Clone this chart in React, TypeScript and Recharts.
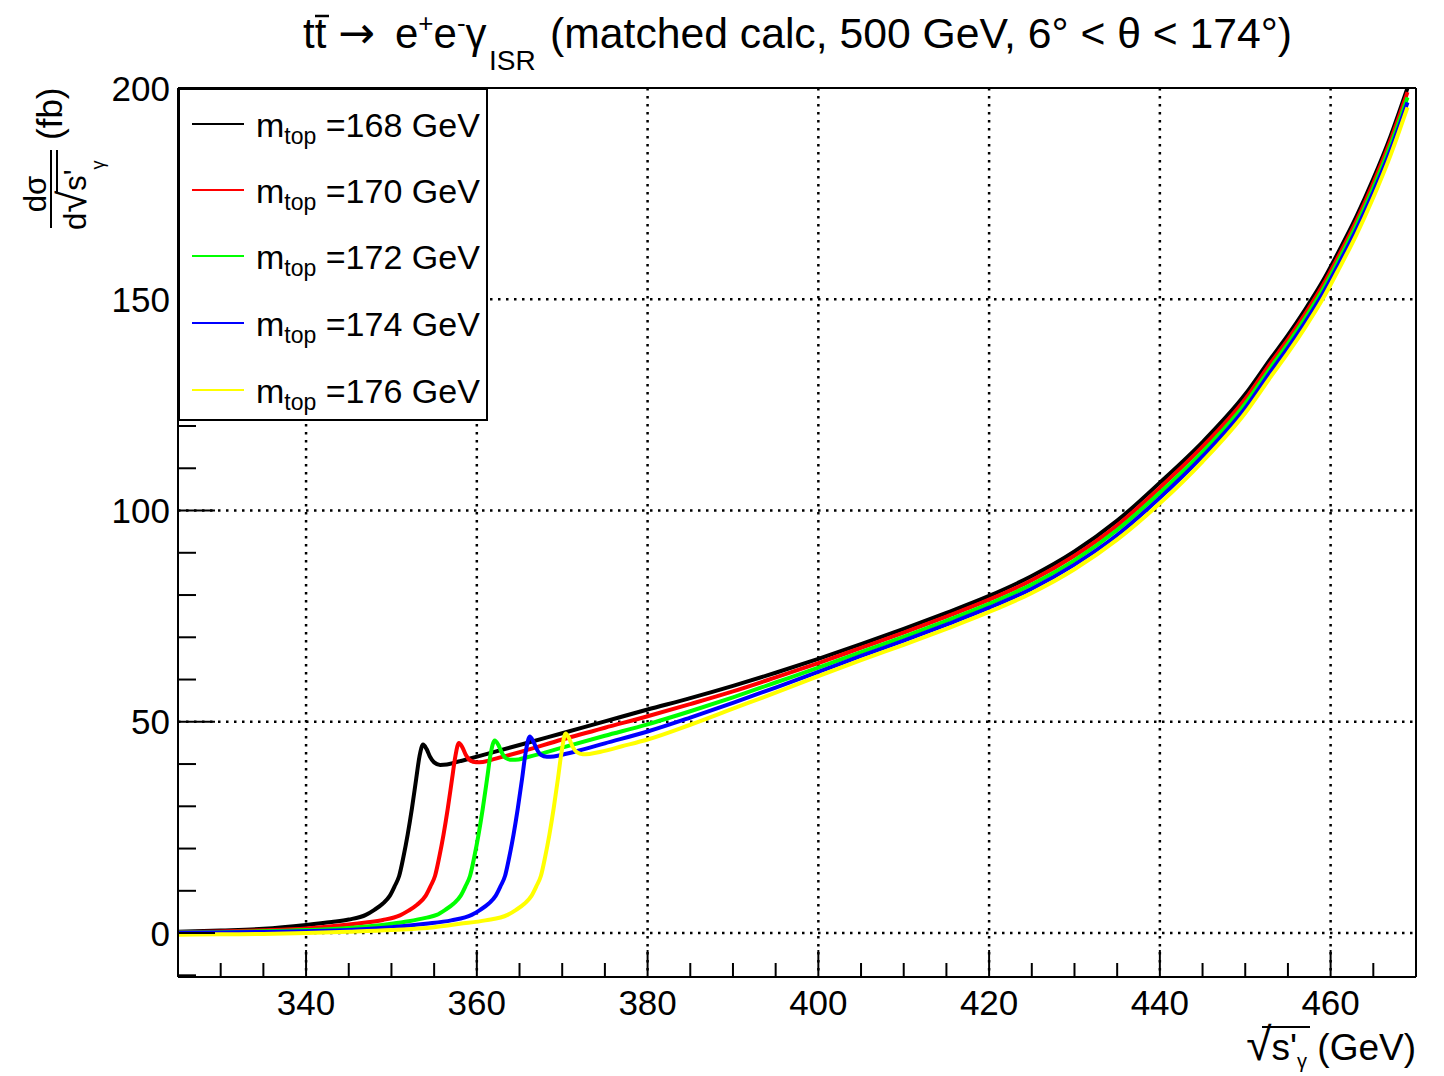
import React from 'react';
import { LineChart, Line, XAxis, YAxis, CartesianGrid, Legend, ReferenceLine } from 'recharts';

const FONT = '"Liberation Sans", Arimo, Arial, Helvetica, sans-serif';

// top-quark masses (GeV) and ROOT colours of the five curves
const topMasses = [168, 170, 172, 174, 176];
const seriesColors = ['#000000', '#ff0000', '#00ff00', '#0000ff', '#ffff00'];

// sqrt(s'_gamma) (GeV) and d sigma / d sqrt(s') (fb)
const sqrtS168 = [325, 330, 335, 340, 343, 345, 347, 348, 349, 349.8, 350.4, 350.9, 351.4, 351.9, 352.4, 352.9, 353.3, 353.7, 354.1, 354.5, 355.0, 355.7, 356.5, 357.5, 359, 361, 365, 370, 375, 380, 385, 390, 395, 400, 405, 410, 415, 420, 425, 430, 435, 440, 445, 450, 453, 455, 457, 459, 461, 463, 465, 467, 469];
const xsec168 = [0.3, 0.6, 1.0, 1.9, 2.6, 3.2, 4.3, 5.5, 7.0, 8.8, 11.2, 13.5, 18.0, 23.3, 29.5, 36.5, 42.0, 44.6, 43.6, 41.8, 40.4, 39.8, 39.9, 40.4, 41.2, 42.3, 44.5, 47.3, 50.1, 52.9, 55.6, 58.5, 61.6, 64.9, 68.4, 72.0, 75.8, 79.8, 84.5, 90.3, 97.6, 106.6, 116.2, 127.5, 136.0, 141.5, 147.5, 154.0, 161.5, 169.5, 178.5, 188.5, 200.0];

const sqrtS170 = [325, 330, 335, 340, 345, 347, 349, 351, 352, 353, 354, 354.6, 355.1, 355.6, 356.1, 356.6, 357.1, 357.5, 357.9, 358.3, 358.7, 359.2, 359.9, 360.7, 361.7, 363.2, 365, 370, 375, 380, 385, 390, 395, 400, 405, 410, 415, 420, 425, 430, 435, 440, 445, 450, 453, 455, 457, 459, 461, 463, 465, 467, 469];
const xsec170 = [0.2, 0.35, 0.65, 1.1, 2.0, 2.5, 3.1, 4.2, 5.3, 6.7, 8.8, 11.2, 13.5, 18.0, 23.3, 29.5, 36.5, 42.0, 45.0, 44.0, 42.2, 40.9, 40.4, 40.5, 41.0, 41.8, 42.8, 45.8, 48.6, 51.3, 54.2, 57.2, 60.5, 63.9, 67.5, 71.1, 74.9, 78.9, 83.5, 89.3, 96.5, 105.4, 115.1, 126.4, 135.0, 140.5, 146.5, 153.0, 160.5, 168.5, 177.5, 187.5, 199.0];

const sqrtS172 = [325, 330, 335, 340, 345, 350, 352, 354, 355.3, 356.3, 357.3, 358.1, 358.7, 359.2, 359.7, 360.2, 360.7, 361.2, 361.6, 362.1, 362.5, 362.9, 363.4, 364.1, 364.9, 365.9, 367.4, 370, 375, 380, 385, 390, 395, 400, 405, 410, 415, 420, 425, 430, 435, 440, 445, 450, 453, 455, 457, 459, 461, 463, 465, 467, 469];
const xsec172 = [0.12, 0.22, 0.4, 0.7, 1.2, 2.2, 2.8, 3.6, 4.3, 5.5, 7.0, 8.8, 11.2, 13.5, 18.0, 23.3, 29.5, 36.5, 42.2, 45.6, 44.6, 42.8, 41.4, 41.0, 41.1, 41.6, 42.4, 43.9, 46.7, 49.4, 52.5, 55.8, 59.3, 62.8, 66.5, 70.1, 73.9, 77.9, 82.5, 88.2, 95.4, 104.2, 113.9, 125.3, 133.9, 139.5, 145.5, 152.0, 159.5, 167.5, 176.4, 186.4, 197.8];

const sqrtS174 = [325, 330, 335, 340, 345, 350, 354, 357, 359.4, 360.4, 361.4, 362.2, 362.8, 363.3, 363.8, 364.3, 364.8, 365.3, 365.7, 366.2, 366.6, 367.0, 367.5, 368.2, 369.0, 370.0, 372, 375, 380, 385, 390, 395, 400, 405, 410, 415, 420, 425, 430, 435, 440, 445, 450, 453, 455, 457, 459, 461, 463, 465, 467, 469];
const xsec174 = [0.05, 0.13, 0.25, 0.45, 0.75, 1.4, 2.2, 3.0, 4.3, 5.5, 7.0, 8.8, 11.2, 13.5, 18.0, 23.3, 29.5, 36.5, 42.5, 46.5, 45.4, 43.6, 42.2, 41.7, 41.8, 42.2, 43.2, 44.9, 47.7, 51.0, 54.5, 58.1, 61.8, 65.6, 69.2, 73.0, 77.0, 81.5, 87.2, 94.2, 103.0, 112.8, 124.2, 132.9, 138.5, 144.5, 151.0, 158.5, 166.4, 175.3, 185.2, 196.6];

const sqrtS176 = [325, 330, 335, 340, 345, 350, 355, 358, 361, 363.6, 364.6, 365.6, 366.4, 367.0, 367.5, 368.0, 368.5, 369.0, 369.5, 369.9, 370.4, 370.8, 371.2, 371.7, 372.4, 373.2, 374.5, 377, 380, 385, 390, 395, 400, 405, 410, 415, 420, 425, 430, 435, 440, 445, 450, 453, 455, 457, 459, 461, 463, 465, 467, 469];
const xsec176 = [-0.4, -0.3, -0.2, 0.0, 0.3, 0.7, 1.4, 2.2, 3.0, 4.3, 5.5, 7.0, 8.8, 11.2, 13.5, 18.0, 23.3, 29.5, 36.5, 42.5, 47.2, 46.1, 44.2, 42.8, 42.3, 42.4, 42.9, 44.2, 45.8, 49.3, 53.1, 56.9, 60.8, 64.6, 68.2, 72.0, 76.0, 80.5, 86.1, 93.1, 101.7, 111.6, 123.1, 131.7, 137.3, 143.3, 149.8, 157.3, 165.2, 174.1, 184.0, 195.4];

// axis ticks
const xTicks = [330, 335, 340, 345, 350, 355, 360, 365, 370, 375, 380, 385, 390, 395, 400, 405, 410, 415, 420, 425, 430, 435, 440, 445, 450, 455, 460, 465];
const xMajorTicks = [340, 360, 380, 400, 420, 440, 460];
const yTicks = [-10, 0, 10, 20, 30, 40, 50, 60, 70, 80, 90, 100, 110, 120, 130, 140, 150, 160, 170, 180, 190, 200];
const yMajorTicks = [0, 50, 100, 150, 200];
const xDomain = [325, 470];
const yDomain = [-10.4, 200];

const allX = [sqrtS168, sqrtS170, sqrtS172, sqrtS174, sqrtS176];
const allY = [xsec168, xsec170, xsec172, xsec174, xsec176];
const seriesData = allX.map((xs, k) => xs.map((x, i) => ({ x, y: allY[k][i] })));

const XTick = (props: any) => {
  const { x, y, payload } = props;
  const v = payload.value;
  const major = xMajorTicks.includes(v);
  return (
    <g>
      <line x1={x} x2={x} y1={y} y2={y - (major ? 27 : 14)} stroke="#000" strokeWidth={2} />
      {major && (
        <text x={x} y={y + 38} textAnchor="middle" fontSize={35} fontFamily={FONT} fill="#000">{v}</text>
      )}
    </g>
  );
};

const YTick = (props: any) => {
  const { x, y, payload } = props;
  const v = payload.value;
  const major = yMajorTicks.includes(v);
  return (
    <g>
      <line x1={x} x2={x + (major ? 37 : 18)} y1={y} y2={y} stroke="#000" strokeWidth={2} />
      {major && (
        <text x={x - 8} y={y + 12.5} textAnchor="end" fontSize={35} fontFamily={FONT} fill="#000">{v}</text>
      )}
    </g>
  );
};

const legendRows = [36, 102, 168, 235, 302];

const LegendBox = () => (
  <svg width={310} height={333} style={{ display: 'block' }}>
    <rect x={1} y={1} width={308} height={331} fill="#fff" stroke="#000" strokeWidth={2} />
    {topMasses.map((m, i) => (
      <g key={m}>
        <line x1={14} x2={66} y1={legendRows[i]} y2={legendRows[i]} stroke={seriesColors[i]} strokeWidth={2} />
        <text x={78} y={legendRows[i] + 13} fontSize={34} fontFamily={FONT} fill="#000">
          m<tspan fontSize={23} dy={7}>top</tspan><tspan dy={-7}>{` =${m} GeV`}</tspan>
        </text>
      </g>
    ))}
  </svg>
);

export default function App() {
  return (
    <div style={{ position: 'absolute', left: 0, top: 0, width: 1444, height: 1076, background: '#fff' }}>
      <LineChart width={1444} height={1076} margin={{ top: 88, right: 28, bottom: 0, left: 0 }}>
        <CartesianGrid
          horizontalValues={[0, 50, 100, 150]}
          verticalValues={xMajorTicks}
          stroke="#000"
          strokeWidth={2.5}
          strokeDasharray="2.5 5.5"
        />
        <XAxis
          dataKey="x"
          type="number"
          domain={xDomain}
          ticks={xTicks}
          interval={0}
          allowDataOverflow
          height={99}
          tickSize={0}
          tickMargin={0}
          tickLine={false}
          axisLine={{ stroke: '#000', strokeWidth: 2 }}
          tick={<XTick />}
        />
        <YAxis
          type="number"
          domain={yDomain}
          ticks={yTicks}
          interval={0}
          allowDataOverflow
          width={178}
          tickSize={0}
          tickMargin={0}
          tickLine={false}
          axisLine={{ stroke: '#000', strokeWidth: 2 }}
          tick={<YTick />}
        />
        <ReferenceLine y={200} stroke="#000" strokeWidth={2} />
        <ReferenceLine x={470} stroke="#000" strokeWidth={2} />
        {seriesData.map((d, k) => (
          <Line
            key={topMasses[k]}
            data={d}
            dataKey="y"
            type="monotone"
            stroke={seriesColors[k]}
            strokeWidth={4}
            dot={false}
            activeDot={false}
            isAnimationActive={false}
          />
        ))}
        <Legend
          layout="vertical"
          align="center"
          verticalAlign="middle"
          wrapperStyle={{ position: 'absolute', left: 178, top: 88, width: 310, height: 333 }}
          content={() => <LegendBox />}
        />
      </LineChart>
      <svg width={1444} height={1076} style={{ position: 'absolute', left: 0, top: 0, pointerEvents: 'none' }} fontFamily={FONT}>
        {/* title */}
        <text x={303} y={48} fontSize={42} fill="#000">
          tt
          <tspan x={338} fontFamily='"DejaVu Sans", sans-serif' fontSize={44}>{'\u2192'}</tspan>
          <tspan x={395}>e</tspan>
          <tspan fontSize={26} dy={-16}>+</tspan>
          <tspan dy={16}>e</tspan>
          <tspan fontSize={26} dy={-16}>-</tspan>
          <tspan dy={16}>{'\u03b3'}</tspan>
          <tspan x={489} fontSize={28} dy={22}>ISR</tspan>
          <tspan x={550} dy={-22} fontSize={42.7}>{'(matched calc, 500 GeV, 6\u00b0 < \u03b8 < 174\u00b0)'}</tspan>
        </text>
        <line x1={315} x2={329} y1={16} y2={16} stroke="#000" strokeWidth={2.5} />
        {/* x axis title */}
        <text x={1416} y={1060} textAnchor="end" fontSize={37} fill="#000">
          <tspan fontSize={46}>{'\u221a'}</tspan>
          <tspan>{"s'"}</tspan>
          <tspan fontSize={20} dy={8}>{'\u03b3'}</tspan>
          <tspan dy={-8}>{' (GeV)'}</tspan>
        </text>
        <line x1={1262} x2={1310} y1={1027} y2={1027} stroke="#000" strokeWidth={2} />
        {/* y axis title */}
        <g transform="translate(52,230) rotate(-90)">
          <line x1={2} x2={80} y1={-1} y2={-1} stroke="#000" strokeWidth={2} />
          <text x={36} y={-6} textAnchor="middle" fontSize={31} fill="#000">d{'\u03c3'}</text>
          <text x={0} y={34} fontSize={31} fill="#000">
            d<tspan fontSize={40}>{'\u221a'}</tspan>
            <tspan>{"s'"}</tspan>
            <tspan fontSize={18} dy={18}>{'\u03b3'}</tspan>
          </text>
          <line x1={37} x2={80} y1={5} y2={5} stroke="#000" strokeWidth={2} />
          <text x={90} y={10} fontSize={35} fill="#000">(fb)</text>
        </g>
      </svg>
    </div>
  );
}
